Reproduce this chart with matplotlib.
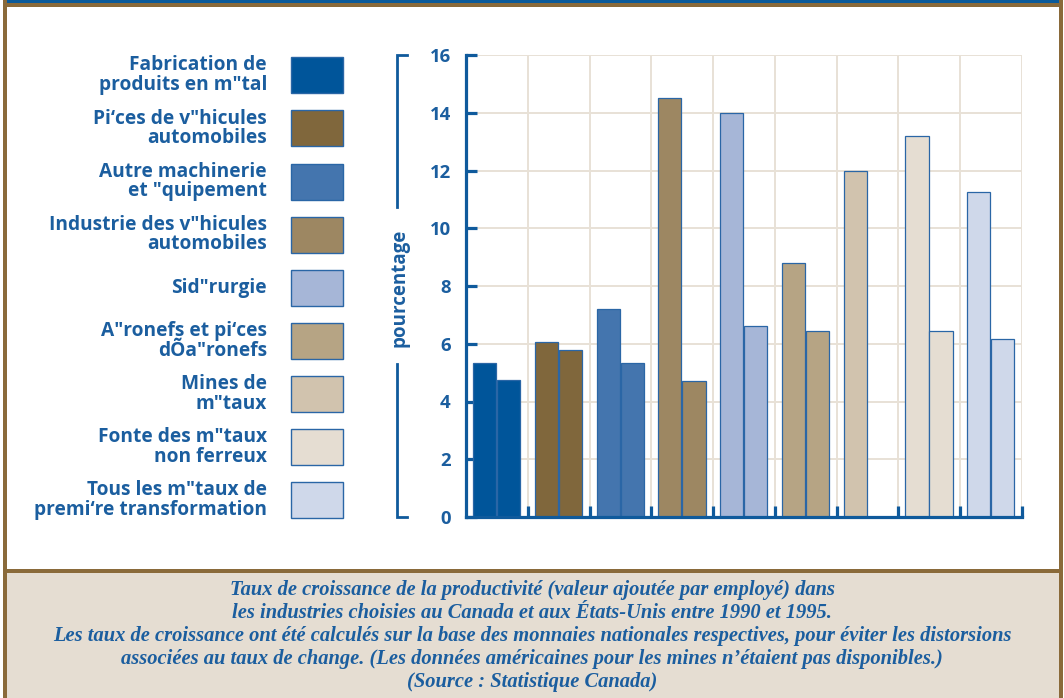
import matplotlib
matplotlib.use("Agg")
import matplotlib.pyplot as plt
from matplotlib.patches import Rectangle
from matplotlib.transforms import blended_transform_factory
import numpy as np

# Industries (legend labels, in draw order)
industries = [
    "Fabrication de\nproduits en m″tal",
    "Pi‘ces de v″hicules\nautomobiles",
    "Autre machinerie\net ″quipement",
    "Industrie des v″hicules\nautomobiles",
    "Sid″rurgie",
    "A″ronefs et pi‘ces\ndÕa″ronefs",
    "Mines de\nm″taux",
    "Fonte des m″taux\nnon ferreux",
    "Tous les m″taux de\npremi‘re transformation",
]
colors = ["#00559a", "#80673c", "#4475ae", "#9d8762", "#a6b6d7",
          "#b6a484", "#d1c3ae", "#e5ddd2", "#cfd8ea"]

# Productivity growth, 1990-1995 (%)
canada = [5.35, 6.05, 7.2, 14.5, 14.0, 8.8, 12.0, 13.2, 11.25]
etats_unis = [4.75, 5.8, 5.35, 4.7, 6.6, 6.45, None, 6.45, 6.15]

yticks = [0, 2, 4, 6, 8, 10, 12, 14, 16]
ylabel = "pourcentage"
caption = [
    "Taux de croissance de la productivité (valeur ajoutée par employé) dans",
    "les industries choisies au Canada et aux États-Unis entre 1990 et 1995.",
    "Les taux de croissance ont été calculés sur la base des monnaies nationales respectives, pour éviter les distorsions",
    "associées au taux de change. (Les données américaines pour les mines n’étaient pas disponibles.)",
    "(Source : Statistique Canada)",
]

BLUE = "#0f5a9c"
TEXT = "#1b5e9f"
BROWN = "#8a6a3a"
GRID = "#e8e1d6"
SANS = ["Open Sans", "DejaVu Sans"]

W, H = 1064, 698
fig = plt.figure(figsize=(W / 100, H / 100), dpi=100)
fig.patch.set_facecolor("white")


def fx(x):
    return x / W


def fy(y):
    return 1 - y / H


def frect(x0, y0, x1, y1, **kw):
    fig.patches.append(Rectangle((fx(x0), fy(y1)), fx(x1) - fx(x0), fy(y0) - fy(y1),
                                 transform=fig.transFigure, **kw))


# Frame
frect(3, 0, 1063, 3, color="#0a5a9a", lw=0)
frect(3, 3, 1063, 7, color=BROWN, lw=0)
frect(7, 573, 1059, 698, color="#e5ddd2", lw=0)
frect(3, 569, 1063, 573, color=BROWN, lw=0)
frect(3, 0, 7, 698, color=BROWN, lw=0)
frect(1059, 0, 1063, 698, color=BROWN, lw=0)

# Plot area
ax = fig.add_axes([fx(466), fy(517), fx(1022) - fx(466), fy(55) - fy(517)])
ax.set_xlim(0, 9)
ax.set_ylim(0, 16)
ax.set_facecolor("none")

x = np.arange(len(industries))
bw = 0.375
for i in range(len(industries)):
    ax.bar(x[i] + 0.30, canada[i], width=bw, color=colors[i],
           edgecolor="#2a66a6", linewidth=0.9, zorder=2)
    if etats_unis[i] is not None:
        ax.bar(x[i] + 0.69, etats_unis[i], width=bw, color=colors[i],
               edgecolor="#2a66a6", linewidth=0.9, zorder=2)

ax.set_xticks(np.arange(1, 10))
ax.set_xticklabels([])
ax.set_yticks(yticks)
ax.set_yticklabels([str(v) for v in yticks], fontfamily=SANS, fontweight="bold",
                   fontsize=13.3, color=TEXT)
ax.tick_params(axis="both", direction="in", length=8, width=2.3, color=BLUE)
ax.tick_params(axis="y", pad=11)
ax.grid(True, color=GRID, linewidth=1.4, zorder=0)
ax.set_axisbelow(True)
for side in ("top", "right"):
    ax.spines[side].set_visible(False)
for side in ("left", "bottom"):
    ax.spines[side].set_color(BLUE)
    ax.spines[side].set_linewidth(2.3)
    ax.spines[side].set_zorder(3)

# Bracketed y-axis title
tr = blended_transform_factory(ax.transAxes, ax.transData)
bx, tip = -0.124, -0.106
ax.plot([tip, bx, bx], [16, 16, 10.75], transform=tr, color=BLUE, lw=2.0,
        clip_on=False, solid_joinstyle="miter")
ax.plot([tip, bx, bx], [0, 0, 5.3], transform=tr, color=BLUE, lw=2.0,
        clip_on=False, solid_joinstyle="miter")
ax.text(bx + 0.004, 7.95, ylabel, transform=tr, rotation=90, ha="center", va="center",
        fontfamily=SANS, fontweight="bold", fontsize=13.5, color=TEXT)

# Legend
for i, (lab, col) in enumerate(zip(industries, colors)):
    top = 57.3 + 53.1 * i
    frect(291, top, 343, top + 36, facecolor=col, edgecolor="#2a66a6", lw=1.0)
    fig.text(fx(267), fy(top + 18), lab, ha="right", va="center", multialignment="right",
             fontfamily=SANS, fontweight="bold", fontsize=13.8, color=TEXT,
             linespacing=0.98)

# Caption
for j, line in enumerate(caption):
    fig.text(fx(532), fy(590 + 23 * j), line, ha="center", va="center",
             fontfamily="Liberation Serif", fontweight="bold", fontstyle="italic",
             fontsize=14.8, color=TEXT)

fig.savefig("out.png", dpi=100)
